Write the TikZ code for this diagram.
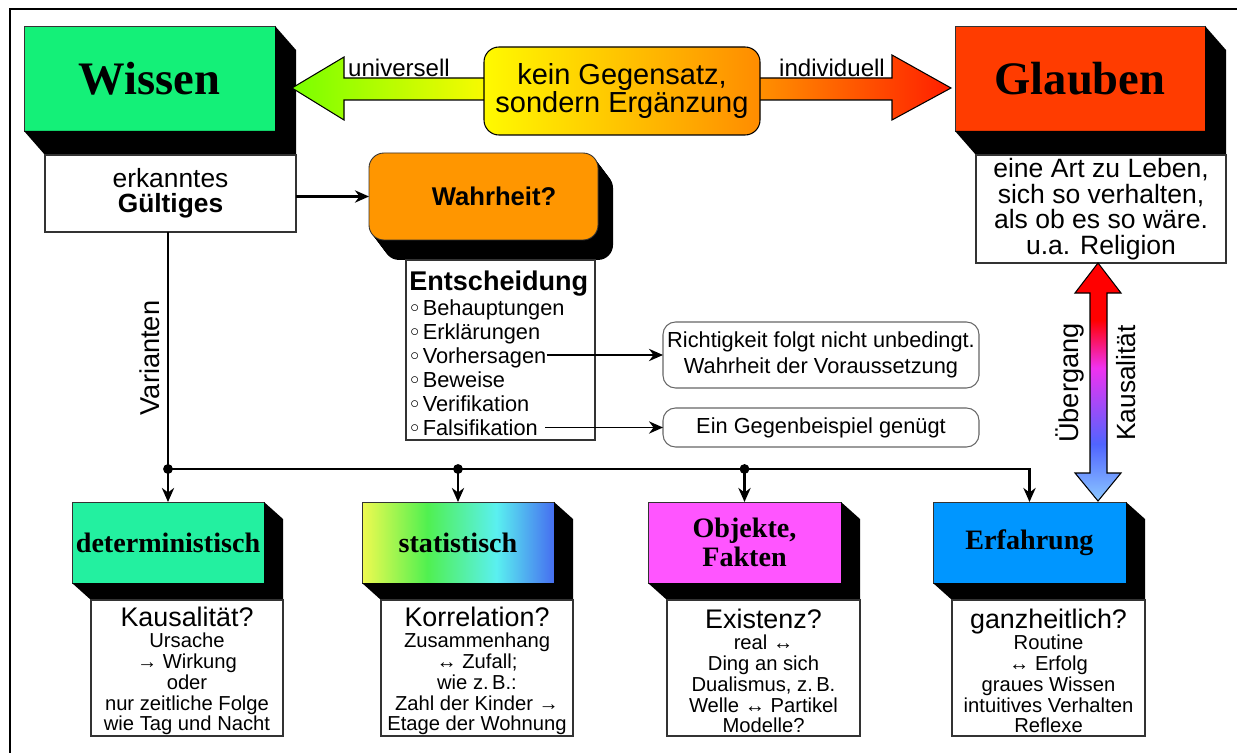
\documentclass[tikz,border=0pt]{standalone}
\usepackage{fontspec}
\setmainfont{Liberation Sans}
\newfontfamily\serifb{Liberation Serif}
\usetikzlibrary{calc,arrows.meta}
\definecolor{cWissen}{RGB}{20,240,120}
\definecolor{cGlauben}{RGB}{255,60,0}
\definecolor{cWahr}{RGB}{255,150,0}
\definecolor{cDet}{RGB}{35,240,160}
\definecolor{cObj}{RGB}{255,85,255}
\definecolor{cErf}{RGB}{0,150,255}
\definecolor{cLB}{RGB}{140,200,255}
\definecolor{cBl}{RGB}{80,100,255}
\definecolor{cMag}{RGB}{240,50,240}
\definecolor{cRed}{RGB}{255,0,0}
\definecolor{cYel}{RGB}{255,250,0}
\definecolor{cOra}{RGB}{255,140,0}
\definecolor{cLGreen}{RGB}{120,255,0}
\definecolor{cROra}{RGB}{255,150,0}
\definecolor{cRRed}{RGB}{255,30,0}
\definecolor{rA}{RGB}{240,250,80}
\definecolor{rB}{RGB}{80,240,80}
\definecolor{rC}{RGB}{90,240,240}
\definecolor{rD}{RGB}{70,110,240}
\pgfdeclareverticalshading{vgrad}{100bp}{color(0bp)=(cLB); color(25bp)=(cLB); color(37bp)=(cBl); color(53bp)=(cMag); color(63bp)=(cRed); color(100bp)=(cRed)}
\pgfdeclarehorizontalshading{rainbow}{100bp}{color(0bp)=(rA); color(25bp)=(rA); color(42bp)=(rB); color(60bp)=(rC); color(75bp)=(rD); color(100bp)=(rD)}
\newcommand{\extrude}[3]{\fill[black] (#1.north east) -- ++(#2,#3) -- ($(#1.south east)+(#2,#3)$) -- ($(#1.south west)+(#2,#3)$) -- (#1.south west) -- (#1.south east) -- cycle;}
\newcommand{\bul}{\raisebox{1.2pt}{\fontsize{10}{10}\selectfont$\circ$}\,}
\newcommand{\headsz}{\fontsize{15.3}{15}\selectfont}
\begin{document}
\begin{tikzpicture}[x=0.02cm,y=-0.02cm,
  pxbox/.style 2 args={minimum width=#1*0.02cm, minimum height=#2*0.02cm, inner sep=0pt, outer sep=0pt, anchor=north west},
  face/.style={draw=black!80, line width=0.5pt},
  wbox/.style={draw=black!80, line width=0.6pt, fill=white, align=center},
  title/.style={font=\serifb\bfseries\fontsize{26.5}{30}\selectfont},
  stitle/.style={font=\serifb\bfseries\fontsize{16}{16.4}\selectfont, align=center},
  body/.style={font=\fontsize{11.5}{11.9}\selectfont, align=center, inner sep=0pt},
  conn/.style={line width=1.2pt, -{Stealth[length=8pt,width=7pt]}},
  wire/.style={line width=1.2pt},
  lab/.style={font=\fontsize{13.7}{15}\selectfont, inner sep=0pt},
  item/.style={anchor=base west, inner sep=0pt, font=\fontsize{12.4}{13}\selectfont},
  rbox/.style={draw=black!60, line width=0.6pt, rounded corners=0.25cm, fill=white, align=center, font=\fontsize{12.4}{14.7}\selectfont}
]
\useasboundingbox (0,0) rectangle (1237,753);
\fill[white] (0,0) rectangle (1237,753);
\begin{scope}
  \clip (0,0) rectangle (1237,753);
  \draw[line width=1.2pt] (10,9) rectangle (1250,770);
\end{scope}

% Wissen
\node[pxbox={251}{105}, face, fill=cWissen, title] (wissen) at (24,26) {Wissen};
\extrude{wissen}{21}{24}
\node[pxbox={251}{77}, wbox, font=\fontsize{15}{14.2}\selectfont] (erk) at (45,155) {erkanntes\\\textbf{Gültiges}};

% Glauben
\node[pxbox={250}{105}, face, fill=cGlauben, title] (glauben) at (955,26) {Glauben};
\extrude{glauben}{21}{24}
\node[pxbox={250}{108}, wbox, font=\fontsize{15.1}{14.5}\selectfont] (glt) at (976,155) {eine Art zu Leben,\\sich so verhalten,\\als ob es so wäre.\\u.a. Religion};

% top arrows
\shadedraw[left color=cLGreen, right color=cYel, draw=black, line width=0.6pt]
  (292,88) -- (344,57) -- (344,78) -- (495,78) -- (495,100) -- (344,100) -- (344,120) -- cycle;
\shadedraw[left color=cROra, right color=cRRed, draw=black, line width=0.6pt]
  (750,78) -- (892,78) -- (892,55) -- (951,88) -- (892,120) -- (892,100) -- (750,100) -- cycle;
\node[pxbox={276}{88}, draw=black, line width=0.6pt, rounded corners=0.3cm, left color=cYel, right color=cOra, align=center, font=\fontsize{16.5}{15.9}\selectfont] (kein) at (484,47) {kein Gegensatz,\\sondern Ergänzung};
\node[lab] (univ) at (399,68) {universell};
\node[lab] (indiv) at (832,68) {individuell};

% Wahrheit
\foreach \k in {1,...,15} {\fill[black, rounded corners=0.3cm] (369+\k,153+1.33*\k) rectangle +(229,87);}
\node[pxbox={229}{87}, draw=black!80, line width=0.5pt, rounded corners=0.3cm, fill=cWahr, font=\bfseries\fontsize{14.6}{15}\selectfont] (wahr) at (369,153) {\hspace*{12pt}Wahrheit?};
\draw[conn] (erk.east |- wahr.west) -- (wahr.west);

% Entscheidung
\node[pxbox={189}{180}, draw=black!80, line width=0.6pt, fill=white] (ent) at (406,260) {};
\node[anchor=base west, inner sep=0pt, font=\bfseries\fontsize{15.4}{16}\selectfont] (entt) at (409,290) {Entscheidung};
\node[item] (beh) at (410,315) {\bul Behauptungen};
\node[item] (erkl) at (410,339) {\bul Erklärungen};
\node[item] (vorh) at (410,363) {\bul Vorhersagen};
\node[item] (bew) at (410,387) {\bul Beweise};
\node[item] (ver) at (410,411) {\bul Verifikation};
\node[item] (fals) at (410,435) {\bul Falsifikation};

\node[pxbox={316}{66}, rbox] (richt) at (663,322) {Richtigkeit folgt nicht unbedingt.\\Wahrheit der Voraussetzung};
\node[pxbox={316}{39}, rbox] (gegen) at (663,408) {Ein Gegenbeispiel genügt};
\draw[conn, line width=1pt] (vorh.east |- richt.west) -- (richt.west);
\draw[conn, line width=1pt] ([xshift=4pt]fals.east |- gegen.west) -- (gegen.west);

% bottom boxes
\node[pxbox={192}{81}, face, fill=cDet, stitle] (det) at (72,502) {deterministisch};
\extrude{det}{19}{17}
\node[pxbox={192}{136}, wbox] (detw) at (91,600) {};
\node[body] (dett) at ($(detw.center)+(0,3)$) {{\headsz Kausalität?}\\Ursache\\→ Wirkung\\oder\\nur zeitliche Folge\\wie Tag und Nacht};

\node[pxbox={192}{81}, face, shade, shading=rainbow, stitle] (stat) at (362,502) {statistisch};
\extrude{stat}{19}{17}
\node[pxbox={192}{136}, wbox] (statw) at (381,600) {};
\node[body] (statt) at ($(statw.center)+(0,3)$) {{\headsz Korrelation?}\\Zusammenhang\\↔ Zufall;\\wie z.\,B.:\\Zahl der Kinder →\\Etage der Wohnung};

\node[pxbox={193}{81}, face, fill=cObj, stitle] (obj) at (648,502) {Objekte,\\Fakten};
\extrude{obj}{19}{17}
\node[pxbox={193}{136}, wbox] (objw) at (667,600) {};
\node[body] (objt) at ($(objw.center)+(0,3)$) {{\headsz Existenz?}\\real ↔\\Ding an sich\\Dualismus, z.\,B.\\Welle ↔ Partikel\\Modelle?};

\node[pxbox={193}{81}, face, fill=cErf, stitle] (erf) at (933,502) {Erfahrung};
\extrude{erf}{19}{17}
\node[pxbox={193}{136}, wbox] (erfw) at (952,600) {};
\node[body] (erft) at ($(erfw.center)+(0,3)$) {{\headsz ganzheitlich?}\\Routine\\↔ Erfolg\\graues Wissen\\intuitives Verhalten\\Reflexe};

% bus
\coordinate (busy) at (0,469);
\coordinate (j1) at (det.north |- busy);
\coordinate (j2) at (stat.north |- busy);
\coordinate (j3) at (obj.north |- busy);
\coordinate (j4) at (erf.north |- busy);
\draw[wire] (det.north |- erk.south) -- (j1);
\draw[conn] (j1) -- (det.north);
\draw[conn] (j1) -- (j4) -- (erf.north);
\draw[conn] (j2) -- (stat.north);
\draw[conn] (j3) -- (obj.north);
\foreach \j in {j1,j2,j3} {\fill (\j) circle (2.8pt);}
\node[rotate=90, font=\fontsize{15.5}{16}\selectfont] (var) at (150,358) {Varianten};

% vertical double arrow
\shadedraw[shading=vgrad, draw=black, line width=0.6pt]
  (1098,263) -- (1121,293) -- (1107,293) -- (1107,473) -- (1121,473) -- (1098,501)
  -- (1075,473) -- (1090,473) -- (1090,293) -- (1075,293) -- cycle;
\node[rotate=90, font=\fontsize{15.5}{16}\selectfont] (ueb) at (1070,383) {Übergang};
\node[rotate=90, font=\fontsize{15}{16}\selectfont] (kaus) at (1126,383) {Kausalität};
\end{tikzpicture}
\end{document}
